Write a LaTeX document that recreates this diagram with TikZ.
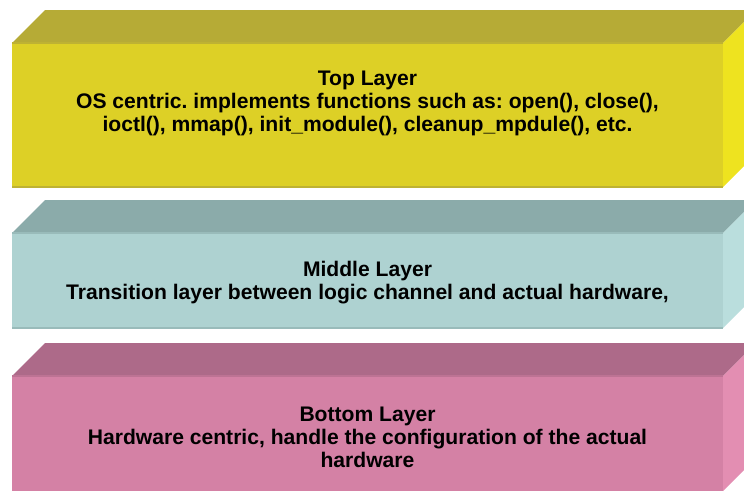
\documentclass[tikz,border=0pt]{standalone}
\usepackage{fontspec}
\setmainfont{Liberation Sans}
\frenchspacing
\definecolor{topfront}{HTML}{DDD026}
\definecolor{toptop}{HTML}{B6AB36}
\definecolor{topside}{HTML}{EEE31F}
\definecolor{midfront}{HTML}{AED2D1}
\definecolor{midtop}{HTML}{8BABAA}
\definecolor{midside}{HTML}{BADEDD}
\definecolor{botfront}{HTML}{D481A5}
\definecolor{bottop}{HTML}{AD6A89}
\definecolor{botside}{HTML}{E38EB2}
\begin{document}
\begin{tikzpicture}
  [x=1pt,y=-1pt,
   face/.style={rectangle,inner sep=0pt,outer sep=0pt,minimum width=711pt},
   txt/.style={align=center,font=\bfseries\fontsize{21.1}{23}\selectfont,inner sep=0pt}]
  \useasboundingbox (0,0) rectangle (744,491);
  \clip (0,0) rectangle (744,491);

  \node[face,fill=topfront,minimum height=144pt] (f1) at (367.5,115) {};
  \node[face,fill=midfront,minimum height=95pt] (f2) at (367.5,280.5) {};
  \node[face,fill=botfront,minimum height=115pt] (f3) at (367.5,433.5) {};

  % top and side faces
  \fill[toptop] (f1.north west) -- ++(33,-33) -- ++(711,0) -- (f1.north east) -- cycle;
  \fill[topside] (f1.north east) -- ++(33,-33) -- ++(0,144) -- (f1.south east) -- cycle;
  \fill[midtop] (f2.north west) -- ++(33,-33) -- ++(711,0) -- (f2.north east) -- cycle;
  \fill[midside] (f2.north east) -- ++(33,-33) -- ++(0,95) -- (f2.south east) -- cycle;
  \fill[bottop] (f3.north west) -- ++(33,-33) -- ++(711,0) -- (f3.north east) -- cycle;
  \fill[botside] (f3.north east) -- ++(33,-33) -- ++(0,115) -- (f3.south east) -- cycle;

  % edges
  \draw[toptop!80!topfront,line width=1.5pt] (f1.north west) -- (f1.north east);
  \draw[toptop!80!topfront,line width=1.5pt] (f1.south west) -- (f1.south east);
  \draw[midtop!60!midfront,line width=1.5pt] (f2.north west) -- (f2.north east);
  \draw[midtop!60!midfront,line width=1.5pt] (f2.south west) -- (f2.south east);
  \draw[bottop!60!botfront,line width=1.5pt] (f3.north west) -- (f3.north east);

  \node[txt] (t1) at (367.5,103) {Top Layer\\OS centric. implements functions such as: open(), close(),\\ioctl(), mmap(), init\_module(), cleanup\_mpdule(), etc.};
  \node[txt] (t2) at (367.5,283) {Middle Layer\\Transition layer between logic channel and actual hardware,};
  \node[txt] (t3) at (367.5,437) {Bottom Layer\\Hardware centric, handle the configuration of the actual\\hardware};
\end{tikzpicture}
\end{document}
